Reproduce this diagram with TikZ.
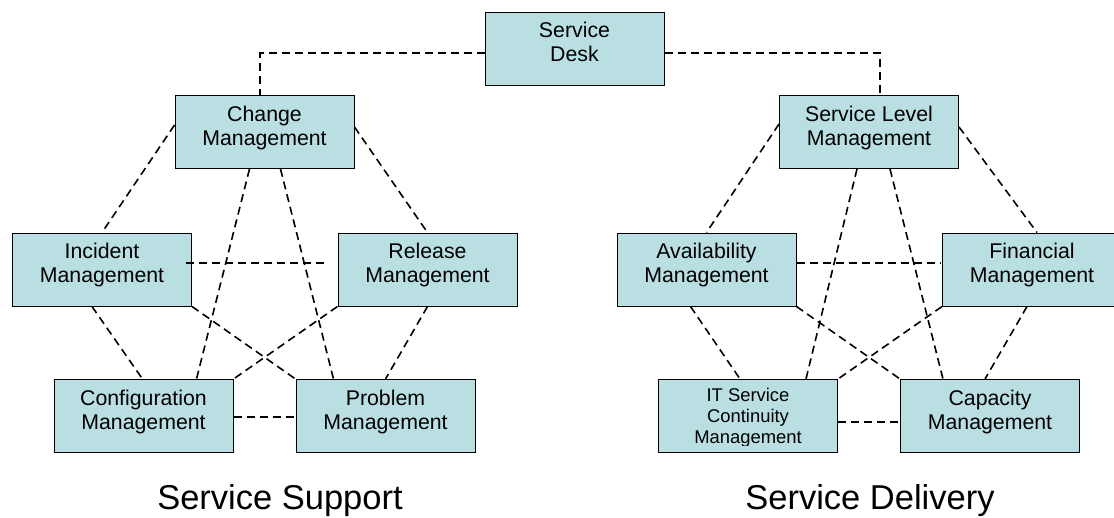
\documentclass[tikz,border=0pt]{standalone}
\usepackage{fontspec}
\setmainfont{Liberation Sans}
\usetikzlibrary{positioning}
\definecolor{boxfill}{RGB}{185,223,227}

\begin{document}
\begin{tikzpicture}[x=1pt, y=-1pt, node distance=604.5pt,
        box/.style={draw=black, line width=1pt, fill=boxfill, minimum width=179pt, minimum height=73pt, inner sep=0pt, align=center, text depth=12.5pt, font=\fontsize{21.3}{24}\selectfont},
        link/.style={dash pattern=on 8pt off 5pt, line width=1.6pt},
        title/.style={anchor=base, inner sep=0pt, font=\fontsize{34.5}{40}\selectfont}]
        \useasboundingbox (0,0) rectangle (1114,517);

        \node[box] (desk) at (574.5,48.5) {Service\\Desk};

        % service support
        \node[box] (change) at (264.5,132) {Change\\Management};
        \node[box] (incident) at (102,269.5) {Incident\\Management};
        \node[box] (release) at (427.5,269.5) {Release\\Management};
        \node[box] (config) at (143.5,416) {Configuration\\Management};
        \node[box] (problem) at (385.5,416) {Problem\\Management};

        % service delivery
        \node[box] (slm) [right of=change] {Service Level\\Management};
        \node[box] (avail) [right of=incident] {Availability\\Management};
        \node[box] (financial) [right of=release] {Financial\\Management};
        \node[box] (its) [right of=config] {};
        \node[box] (capacity) [right of=problem] {Capacity\\Management};
        \begin{scope}
            \clip ([yshift=8pt]its.south west) rectangle (its.north east);
            \node[anchor=north, inner sep=0pt, align=center, font=\fontsize{18.4}{21}\selectfont] (itstext) at ([yshift=-9pt]its.north) {IT Service\\Continuity\\Management};
        \end{scope}

        \node[title] (support) at (280,509) {Service Support};
        \node[title] (delivery) at (870,509) {Service Delivery};

        \draw[link] ([yshift=-4.5pt]desk.west) -| ([xshift=-4.5pt]change.north);
        \draw[link] ([yshift=-4.5pt]desk.east) -| ([xshift=11pt]slm.north);

        \draw[link] ([yshift=7pt]change.west) -- (incident.north);
        \draw[link] ([yshift=5pt]change.east) -- (release.north);
        \draw[link] ([xshift=-15pt]change.south) -- ([xshift=53pt]config.north);
        \draw[link] ([xshift=16pt]change.south) -- ([xshift=-52pt]problem.north);
        \draw[link] ([xshift=-6pt,yshift=6.5pt]incident.east) -- ([xshift=-10pt,yshift=6.5pt]release.west);
        \draw[link] ([xshift=-10pt]incident.south) -- ([xshift=-1pt]config.north);
        \draw[link] (incident.south east) -- (problem.north west);
        \draw[link] (release.south west) -- (config.north east);
        \draw[link] (release.south) -- (problem.north);
        \draw[link] ([yshift=-1pt]config.east) -- ([yshift=-1pt]problem.west);

        \draw[link] ([yshift=8pt]slm.west) -- (avail.north);
        \draw[link] ([yshift=5pt]slm.east) -- ([xshift=5pt]financial.north);
        \draw[link] ([xshift=-12pt]slm.south) -- ([xshift=58pt]its.north);
        \draw[link] ([xshift=21pt]slm.south) -- ([xshift=-47pt]capacity.north);
        \draw[link] ([yshift=6.5pt]avail.east) -- ([xshift=-2pt,yshift=6.5pt]financial.west);
        \draw[link] ([xshift=-16pt]avail.south) -- ([xshift=-8pt]its.north);
        \draw[link] (avail.south east) -- (capacity.north west);
        \draw[link] (financial.south west) -- (its.north east);
        \draw[link] ([xshift=-5pt]financial.south) -- ([xshift=-5pt]capacity.north);
        \draw[link] ([yshift=-6pt]its.east) -- ([yshift=-6pt]capacity.west);
\end{tikzpicture}
\end{document}
